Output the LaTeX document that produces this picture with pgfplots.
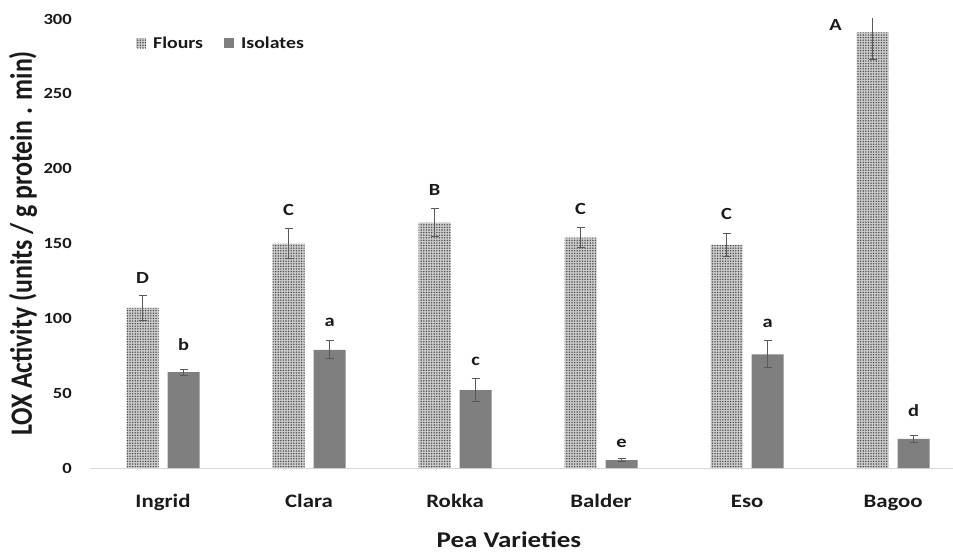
\documentclass[border=0pt]{standalone}
\usepackage{pgfplots}
\pgfplotsset{compat=1.18}
\usepackage{pgfplotstable}
\usepackage{fontspec}
\setmainfont{Carlito}[FakeStretch=1.2]
\newfontfamily\ylabfont{Carlito}[FakeStretch=0.8333]
\usetikzlibrary{patterns.meta}
\definecolor{isol}{HTML}{7F7F7F}
\definecolor{errc}{HTML}{595959}
\definecolor{axc}{HTML}{D9D9D9}
\definecolor{txt}{HTML}{1A1A1A}

\pgfplotstableread{
x  f    fe   i    ie
0  107  8.5  64   2
1  150  10   79   6
2  164  9.5  52   7.5
3  154  7    5.3  1
4  149  8    76   9
5  291  18   19.5 2.5
}\datatable

\begin{document}
\begin{tikzpicture}
\begin{axis}[
  at={(90pt,87pt)}, anchor=south west,
  scale only axis, width=863pt, height=449pt,
  ymin=0, ymax=300, ytick={0,50,...,300},
  xmin=-0.5, xmax=5.41,
  xtick={0,1,2,3,4,5},
  xticklabels={Ingrid,Clara,Rokka,Balder,Eso,Bagoo},
  ybar=9pt, bar width=32pt,
  axis lines*=left,
  y axis line style={draw=none},
  x axis line style={draw=axc, line width=1pt},
  major tick length=0pt,
  /pgf/number format/assume math mode=true,
  yticklabel style={font=\bfseries\fontsize{15.5}{18}\selectfont, text=txt, anchor=east, inner sep=0pt, xshift=-18pt},
  xticklabel style={font=\bfseries\fontsize{19}{22}\selectfont, text=txt, anchor=base, inner sep=0pt, yshift=-39pt},
  xlabel={Pea Varieties},
  xlabel style={font=\bfseries\fontsize{22.5}{26}\selectfont, text=txt, at={(axis description cs:0.4855,-0.1760)}, anchor=base, inner sep=0pt},
  ylabel={LOX Activity (units / g protein . min)},
  ylabel style={font=\ylabfont\bfseries\fontsize{31}{34}\selectfont, text=txt, at={(axis description cs:-0.0776,0.5)}, anchor=center, inner sep=0pt},
  legend columns=2,
  legend style={at={(axis description cs:0.0533,0.9465)}, anchor=west, draw=none, fill=none, inner sep=0pt,
    font=\bfseries\fontsize{16.5}{19}\selectfont, text=txt,
    /tikz/every odd column/.append style={column sep=5pt},
    /tikz/every even column/.append style={column sep=19pt}},
  legend image code/.code={\path[#1] (0pt,-5pt) rectangle (10pt,5pt);},
  error bars/y dir=both, error bars/y explicit,
  error bars/error bar style={errc, line width=1pt},
  error bars/error mark options={rotate=90, mark size=4pt, errc, line width=1pt},
  clip=true,
]
\addplot[draw=none, fill=gray!40, postaction={pattern={Dots[radius=0.8pt,distance=2.6pt]}, pattern color=gray!60!black}]
  table[x=x, y=f, y error=fe] {\datatable};
\addlegendentry{Flours}
\addplot[draw=none, fill=isol]
  table[x=x, y=i, y error=ie] {\datatable};
\addlegendentry{Isolates}

\begin{scope}[every node/.style={font=\bfseries\fontsize{17}{19}\selectfont, text=txt, anchor=base, inner sep=0pt}]
\node at (axis cs:-0.1405,123) {D};
\node at (axis cs:0.1405,78.8) {b};
\node at (axis cs:0.8595,168.5) {C};
\node at (axis cs:1.1405,94.4) {a};
\node at (axis cs:1.8595,182.4) {B};
\node at (axis cs:2.1405,68.8) {c};
\node at (axis cs:2.8595,169.7) {C};
\node at (axis cs:3.1405,13.8) {e};
\node at (axis cs:3.8595,166) {C};
\node at (axis cs:4.1405,94) {a};
\node at (axis cs:4.606,292) {A};
\node at (axis cs:5.1405,34.3) {d};
\end{scope}
\end{axis}
\pgfresetboundingbox
\path[use as bounding box] (0pt,0pt) rectangle (953pt,555pt);
\end{tikzpicture}
\end{document}
